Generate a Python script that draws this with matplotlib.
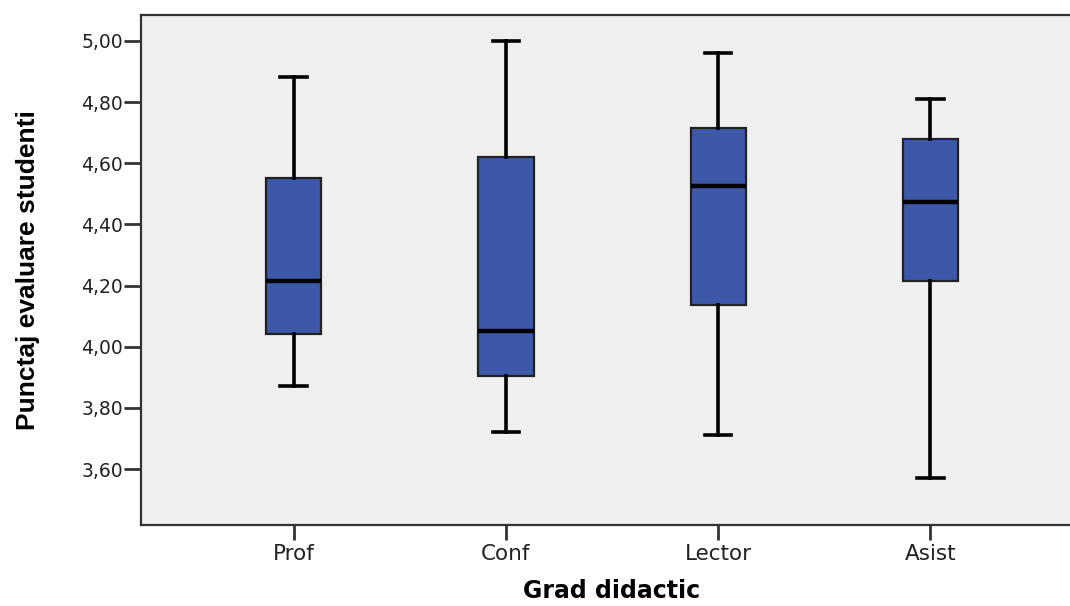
import matplotlib
matplotlib.use("Agg")
import matplotlib.pyplot as plt

categories = ["Prof", "Conf", "Lector", "Asist"]
whisker_low = [3.870, 3.721, 3.711, 3.571]
q1 = [4.042, 3.904, 4.135, 4.216]
median = [4.216, 4.052, 4.527, 4.472]
q3 = [4.551, 4.622, 4.715, 4.680]
whisker_high = [4.881, 5.000, 4.960, 4.810]
yticks = [3.6, 3.8, 4.0, 4.2, 4.4, 4.6, 4.8, 5.0]
ytick_labels = ["3,60", "3,80", "4,00", "4,20", "4,40", "4,60", "4,80", "5,00"]

fig = plt.figure(figsize=(10.7, 6.06), dpi=100)
ax = fig.add_axes([141/1070, 81/606, (1083-141)/1070, (525-15)/606])
ax.set_facecolor("#efefef")

stats = []
for i, c in enumerate(categories):
    stats.append(dict(label=c, whislo=whisker_low[i], q1=q1[i], med=median[i],
                      q3=q3[i], whishi=whisker_high[i], fliers=[]))

pos = list(range(len(categories)))
ax.bxp(stats, positions=pos, widths=0.26, patch_artist=True, showfliers=False,
       capwidths=0.125,
       boxprops=dict(facecolor="#3d58a8", edgecolor="#222222", linewidth=1.6),
       medianprops=dict(color="black", linewidth=3.2),
       whiskerprops=dict(color="black", linewidth=2.6),
       capprops=dict(color="black", linewidth=2.6))

ax.set_xlim(-0.72, 3.72)
ax.set_ylim(3.417, 5.085)
ax.set_yticks(yticks)
ax.set_yticklabels(ytick_labels)
ax.set_xticks(pos)
ax.set_xticklabels(categories)

for s in ax.spines.values():
    s.set_color("#333333")
    s.set_linewidth(1.6)

ax.tick_params(axis="both", direction="out", width=2, color="#333333",
               labelcolor="#222222")
ax.tick_params(axis="y", length=12, pad=1, labelsize=13.5)
ax.tick_params(axis="x", length=10.5, pad=3, labelsize=15.5)
for lab in ax.get_xticklabels() + ax.get_yticklabels():
    lab.set_family(["DejaVu Sans"])

fig.text(28/1070, 1 - 270/606, "Punctaj evaluare studenti", rotation=90,
         ha="center", va="center", fontsize=19, fontweight="bold",
         family=["Liberation Sans", "DejaVu Sans"])
fig.text(612/1070, 1 - 598/606, "Grad didactic", ha="center", va="baseline",
         fontsize=17, fontweight="bold", family=["DejaVu Sans"])

fig.savefig("out.png", dpi=100)
